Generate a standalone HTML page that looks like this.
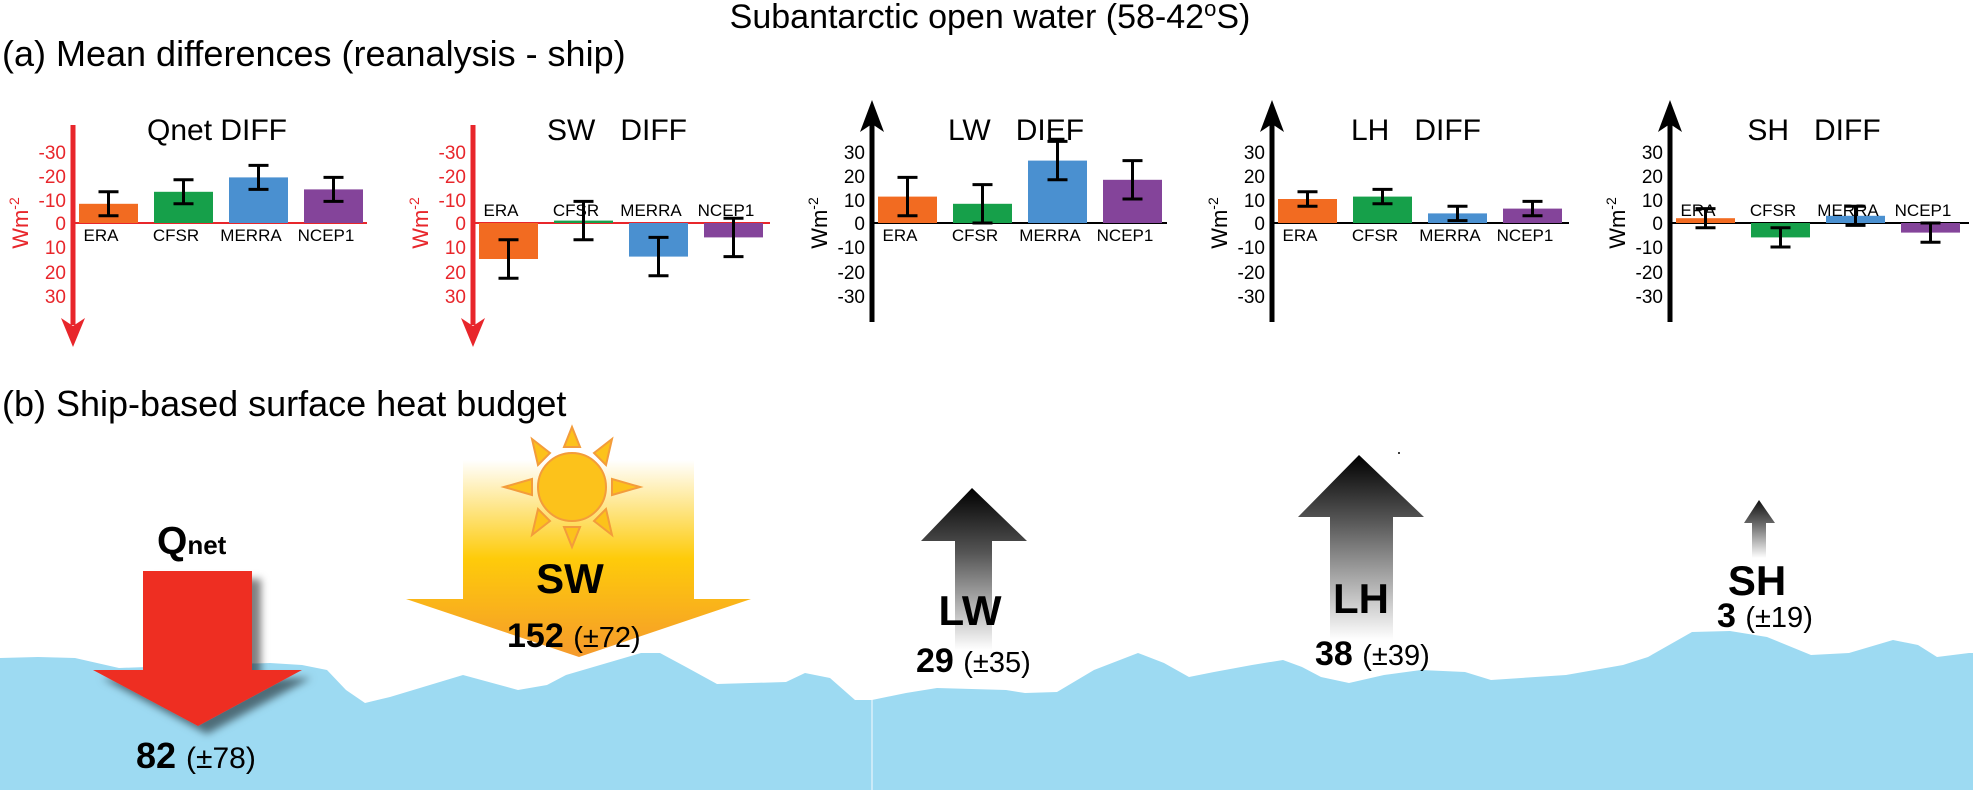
<!DOCTYPE html>
<html><head><meta charset="utf-8"><style>
html,body{margin:0;padding:0;background:#fff;}
svg{display:block;}
text{font-family:"Liberation Sans",Arial,sans-serif;}
</style></head><body>
<svg width="1973" height="790" viewBox="0 0 1973 790" xmlns="http://www.w3.org/2000/svg">
<defs>
<linearGradient id="sw" x1="0" y1="460" x2="0" y2="657" gradientUnits="userSpaceOnUse">
<stop offset="0" stop-color="#fff"/><stop offset="0.5" stop-color="#fecb0a"/><stop offset="1" stop-color="#f59a2c"/></linearGradient>
<linearGradient id="lw" x1="0" y1="488" x2="0" y2="650" gradientUnits="userSpaceOnUse">
<stop offset="0" stop-color="#000"/><stop offset="0.4" stop-color="#555"/><stop offset="1" stop-color="#fff"/></linearGradient>
<linearGradient id="lh" x1="0" y1="455" x2="0" y2="640" gradientUnits="userSpaceOnUse">
<stop offset="0" stop-color="#000"/><stop offset="0.35" stop-color="#555"/><stop offset="1" stop-color="#fff"/></linearGradient>
<linearGradient id="sh" x1="0" y1="500" x2="0" y2="558" gradientUnits="userSpaceOnUse">
<stop offset="0" stop-color="#111"/><stop offset="0.4" stop-color="#666"/><stop offset="1" stop-color="#fff"/></linearGradient>
<filter id="ds" x="-20%" y="-20%" width="150%" height="150%"><feDropShadow dx="9" dy="8" stdDeviation="4" flood-color="#000" flood-opacity="0.5"/></filter>
</defs>

<!-- titles -->
<text x="990" y="28" font-size="34" text-anchor="middle">Subantarctic open water (58-42<tspan font-size="22" dy="-12">o</tspan><tspan dy="12">S)</tspan></text>
<text x="2" y="66" font-size="36">(a) Mean differences (reanalysis - ship)</text>
<text x="2" y="416" font-size="36">(b) Ship-based surface heat budget</text>

<!-- ===== Qnet panel ===== -->
<g>
<line x1="73" y1="223" x2="367" y2="223" stroke="#e8262b" stroke-width="2"/>
<rect x="79" y="203.8" width="59" height="19.2" fill="#f26b21"/>
<rect x="154" y="191.8" width="59" height="31.2" fill="#16a04a"/>
<rect x="229" y="177.4" width="59" height="45.6" fill="#4a90d0"/>
<rect x="304" y="189.4" width="59" height="33.6" fill="#84449a"/>
<g stroke="#000" stroke-width="3">
<path d="M108.5 215.8V191.8M98.5 215.8h20M98.5 191.8h20"/>
<path d="M183.5 203.8V179.8M173.5 203.8h20M173.5 179.8h20"/>
<path d="M258.5 189.4V165.4M248.5 189.4h20M248.5 165.4h20"/>
<path d="M333.5 201.4V177.4M323.5 201.4h20M323.5 177.4h20"/>
</g>
<line x1="73" y1="125" x2="73" y2="325" stroke="#e8262b" stroke-width="5"/>
<path d="M61 318 L73 347 L85 318 L73 326 Z" fill="#e8262b"/>
<g fill="#e8262b" font-size="19" text-anchor="end">
<text x="66" y="159">-30</text><text x="66" y="183">-20</text><text x="66" y="207">-10</text><text x="66" y="230">0</text>
<text x="66" y="254">10</text><text x="66" y="279">20</text><text x="66" y="303">30</text></g>
<text transform="translate(28,223) rotate(-90)" font-size="22" fill="#e8262b" text-anchor="middle">Wm<tspan font-size="14" dy="-9">-2</tspan></text>
<text x="217" y="140" font-size="30" text-anchor="middle">Qnet DIFF</text>
<g font-size="17" text-anchor="middle"><text x="101" y="241">ERA</text><text x="176" y="241">CFSR</text><text x="251" y="241">MERRA</text><text x="326" y="241">NCEP1</text></g>
</g>

<!-- ===== SW panel ===== -->
<g>
<line x1="473" y1="223" x2="770" y2="223" stroke="#e8262b" stroke-width="2"/>
<rect x="479" y="223" width="59" height="36" fill="#f26b21"/>
<rect x="554" y="220.6" width="59" height="2.4" fill="#16a04a"/>
<rect x="629" y="223" width="59" height="33.6" fill="#4a90d0"/>
<rect x="704" y="223" width="59" height="14.4" fill="#84449a"/>
<g stroke="#000" stroke-width="3">
<path d="M508.5 239.8V278.2M498.5 239.8h20M498.5 278.2h20"/>
<path d="M583.5 201.4V239.8M573.5 201.4h20M573.5 239.8h20"/>
<path d="M658.5 237.4V275.8M648.5 237.4h20M648.5 275.8h20"/>
<path d="M733.5 218.2V256.6M723.5 218.2h20M723.5 256.6h20"/>
</g>
<line x1="473" y1="125" x2="473" y2="325" stroke="#e8262b" stroke-width="5"/>
<path d="M461 318 L473 347 L485 318 L473 326 Z" fill="#e8262b"/>
<g fill="#e8262b" font-size="19" text-anchor="end">
<text x="466" y="159">-30</text><text x="466" y="183">-20</text><text x="466" y="207">-10</text><text x="466" y="230">0</text>
<text x="466" y="254">10</text><text x="466" y="279">20</text><text x="466" y="303">30</text></g>
<text transform="translate(428,223) rotate(-90)" font-size="22" fill="#e8262b" text-anchor="middle">Wm<tspan font-size="14" dy="-9">-2</tspan></text>
<text x="617" y="140" font-size="30" text-anchor="middle" xml:space="preserve">SW   DIFF</text>
<g font-size="17" text-anchor="middle"><text x="501" y="216">ERA</text><text x="576" y="216">CFSR</text><text x="651" y="216">MERRA</text><text x="726" y="216">NCEP1</text></g>
</g>

<!-- ===== LW panel ===== -->
<g>
<line x1="872" y1="223" x2="1167" y2="223" stroke="#000" stroke-width="2"/>
<rect x="878" y="196.6" width="59" height="26.4" fill="#f26b21"/>
<rect x="953" y="203.8" width="59" height="19.2" fill="#16a04a"/>
<rect x="1028" y="160.6" width="59" height="62.4" fill="#4a90d0"/>
<rect x="1103" y="179.8" width="59" height="43.2" fill="#84449a"/>
<g stroke="#000" stroke-width="3">
<path d="M907.5 215.8V177.4M897.5 215.8h20M897.5 177.4h20"/>
<path d="M982.5 223V184.6M972.5 223h20M972.5 184.6h20"/>
<path d="M1057.5 179.8V141.4M1047.5 179.8h20M1047.5 141.4h20"/>
<path d="M1132.5 199V160.6M1122.5 199h20M1122.5 160.6h20"/>
</g>
<line x1="872" y1="122" x2="872" y2="322" stroke="#000" stroke-width="5"/>
<path d="M860 132 L872 100 L884 132 L872 124 Z" fill="#000"/>
<g fill="#000" font-size="19" text-anchor="end">
<text x="865" y="159">30</text><text x="865" y="183">20</text><text x="865" y="207">10</text><text x="865" y="230">0</text>
<text x="865" y="254">-10</text><text x="865" y="279">-20</text><text x="865" y="303">-30</text></g>
<text transform="translate(827,223) rotate(-90)" font-size="22" text-anchor="middle">Wm<tspan font-size="14" dy="-9">-2</tspan></text>
<text x="1016" y="140" font-size="30" text-anchor="middle" xml:space="preserve">LW   DIEF</text>
<g font-size="17" text-anchor="middle"><text x="900" y="241">ERA</text><text x="975" y="241">CFSR</text><text x="1050" y="241">MERRA</text><text x="1125" y="241">NCEP1</text></g>
</g>

<!-- ===== LH panel ===== -->
<g>
<line x1="1272" y1="223" x2="1569" y2="223" stroke="#000" stroke-width="2"/>
<rect x="1278" y="199" width="59" height="24" fill="#f26b21"/>
<rect x="1353" y="196.6" width="59" height="26.4" fill="#16a04a"/>
<rect x="1428" y="213.4" width="59" height="9.6" fill="#4a90d0"/>
<rect x="1503" y="208.6" width="59" height="14.4" fill="#84449a"/>
<g stroke="#000" stroke-width="3">
<path d="M1307.5 206.2V191.8M1297.5 206.2h20M1297.5 191.8h20"/>
<path d="M1382.5 203.8V189.4M1372.5 203.8h20M1372.5 189.4h20"/>
<path d="M1457.5 220.6V206.2M1447.5 220.6h20M1447.5 206.2h20"/>
<path d="M1532.5 215.8V201.4M1522.5 215.8h20M1522.5 201.4h20"/>
</g>
<line x1="1272" y1="122" x2="1272" y2="322" stroke="#000" stroke-width="5"/>
<path d="M1260 132 L1272 100 L1284 132 L1272 124 Z" fill="#000"/>
<g fill="#000" font-size="19" text-anchor="end">
<text x="1265" y="159">30</text><text x="1265" y="183">20</text><text x="1265" y="207">10</text><text x="1265" y="230">0</text>
<text x="1265" y="254">-10</text><text x="1265" y="279">-20</text><text x="1265" y="303">-30</text></g>
<text transform="translate(1227,223) rotate(-90)" font-size="22" text-anchor="middle">Wm<tspan font-size="14" dy="-9">-2</tspan></text>
<text x="1416" y="140" font-size="30" text-anchor="middle" xml:space="preserve">LH   DIFF</text>
<g font-size="17" text-anchor="middle"><text x="1300" y="241">ERA</text><text x="1375" y="241">CFSR</text><text x="1450" y="241">MERRA</text><text x="1525" y="241">NCEP1</text></g>
</g>

<!-- ===== SH panel ===== -->
<g>
<line x1="1670" y1="223" x2="1969" y2="223" stroke="#000" stroke-width="2"/>
<rect x="1676" y="218.2" width="59" height="4.8" fill="#f26b21"/>
<rect x="1751" y="223" width="59" height="14.4" fill="#16a04a"/>
<rect x="1826" y="215.8" width="59" height="7.2" fill="#4a90d0"/>
<rect x="1901" y="223" width="59" height="9.6" fill="#84449a"/>
<g stroke="#000" stroke-width="3">
<path d="M1705.5 227.8V208.6M1695.5 227.8h20M1695.5 208.6h20"/>
<path d="M1780.5 227.8V247M1770.5 227.8h20M1770.5 247h20"/>
<path d="M1855.5 225.4V206.2M1845.5 225.4h20M1845.5 206.2h20"/>
<path d="M1930.5 223V242.2M1920.5 223h20M1920.5 242.2h20"/>
</g>
<line x1="1670" y1="122" x2="1670" y2="322" stroke="#000" stroke-width="5"/>
<path d="M1658 132 L1670 100 L1682 132 L1670 124 Z" fill="#000"/>
<g fill="#000" font-size="19" text-anchor="end">
<text x="1663" y="159">30</text><text x="1663" y="183">20</text><text x="1663" y="207">10</text><text x="1663" y="230">0</text>
<text x="1663" y="254">-10</text><text x="1663" y="279">-20</text><text x="1663" y="303">-30</text></g>
<text transform="translate(1625,223) rotate(-90)" font-size="22" text-anchor="middle">Wm<tspan font-size="14" dy="-9">-2</tspan></text>
<text x="1814" y="140" font-size="30" text-anchor="middle" xml:space="preserve">SH   DIFF</text>
<g font-size="17" text-anchor="middle"><text x="1698" y="216">ERA</text><text x="1773" y="216">CFSR</text><text x="1848" y="216">MERRA</text><text x="1923" y="216">NCEP1</text></g>
</g>

<!-- ===== water ===== -->
<polygon fill="#9ddaf2" points="0,658 38,657 75,658 119,668 200,665 270,663 302,665 327,670 346,690 365,703 390,697 463,675 518,690 547,685 566,675 641,653 660,653 686,667 717,684 786,682 805,673 830,678 855,700 872,700 906,693 937,688 1006,690 1025,693 1057,692 1094,670 1138,653 1164,663 1189,677 1214,672 1252,665 1283,660 1302,667 1321,677 1349,683 1384,675 1421,670 1465,672 1491,680 1566,675 1623,665 1648,657 1692,632 1730,631 1767,637 1811,655 1849,653 1893,640 1918,645 1937,657 1969,653 1973,653 1973,790 0,790"/>
<line x1="872" y1="700" x2="872" y2="790" stroke="#d8f0fa" stroke-width="1.5"/>

<!-- Qnet arrow -->
<polygon points="143,571 252,571 252,670 302,670 198,726 93,670 143,670" fill="#ee2e24" filter="url(#ds)"/>
<text x="157" y="554" font-size="39" font-weight="bold">Q<tspan font-size="26">net</tspan></text>
<text x="136" y="768" font-size="36" font-weight="bold">82 <tspan font-weight="normal" font-size="30">(±78)</tspan></text>

<!-- SW arrow -->
<polygon points="463,460 694,460 694,599 751,599 579,657 406,599 463,599" fill="url(#sw)"/>
<g transform="translate(572,487)">
<g fill="#fcc21b" stroke="#f39c3b" stroke-width="2">
<polygon points="-8,-40 0,-60 8,-40"/>
<polygon points="-8,40 0,60 8,40"/>
<polygon points="-40,-8 -68,0 -40,8"/>
<polygon points="40,-8 68,0 40,8"/>
<polygon points="-22,-34 -40,-48 -34,-22" />
<polygon points="22,-34 40,-48 34,-22"/>
<polygon points="-22,34 -40,48 -34,22"/>
<polygon points="22,34 40,48 34,22"/>
<circle r="34"/>
</g></g>
<text x="570" y="593" font-size="42" font-weight="bold" text-anchor="middle">SW</text>
<text x="507" y="647" font-size="34" font-weight="bold">152 <tspan font-weight="normal" font-size="29">(±72)</tspan></text>

<!-- LW arrow -->
<polygon points="972,488 1027,541 992,541 992,650 955,650 955,541 921,541" fill="url(#lw)"/>
<text x="970" y="625" font-size="42" font-weight="bold" text-anchor="middle">LW</text>
<text x="916" y="672" font-size="34" font-weight="bold">29 <tspan font-weight="normal" font-size="29">(±35)</tspan></text>

<!-- LH arrow -->
<polygon points="1359,455 1424,517 1393,517 1393,640 1330,640 1330,517 1298,517" fill="url(#lh)"/>
<circle cx="1399" cy="453" r="1" fill="#000"/>
<text x="1361" y="613" font-size="42" font-weight="bold" text-anchor="middle">LH</text>
<text x="1315" y="665" font-size="34" font-weight="bold">38 <tspan font-weight="normal" font-size="29">(±39)</tspan></text>

<!-- SH arrow -->
<polygon points="1759,500 1775,523 1766,523 1766,558 1752,558 1752,523 1744,523" fill="url(#sh)"/>
<text x="1757" y="595" font-size="42" font-weight="bold" text-anchor="middle">SH</text>
<text x="1717" y="627" font-size="34" font-weight="bold">3 <tspan font-weight="normal" font-size="29">(±19)</tspan></text>
</svg>
</body></html>
